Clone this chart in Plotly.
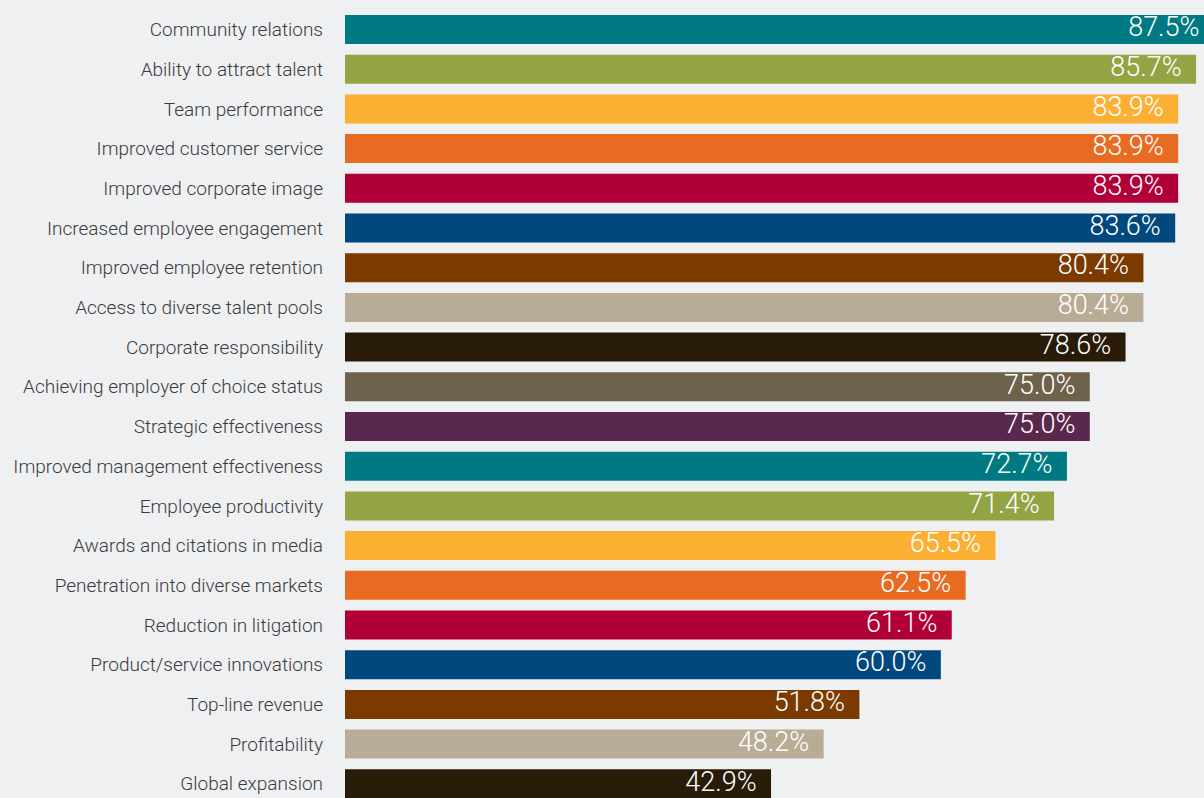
import plotly.graph_objects as go

# Reported business benefits, share of respondents (%)
benefits = [
    "Community relations",
    "Ability to attract talent",
    "Team performance",
    "Improved customer service",
    "Improved corporate image",
    "Increased employee engagement",
    "Improved employee retention",
    "Access to diverse talent pools",
    "Corporate responsibility",
    "Achieving employer of choice status",
    "Strategic effectiveness",
    "Improved management effectiveness",
    "Employee productivity",
    "Awards and citations in media",
    "Penetration into diverse markets",
    "Reduction in litigation",
    "Product/service innovations",
    "Top-line revenue",
    "Profitability",
    "Global expansion",
]
shares = [87.5, 85.7, 83.9, 83.9, 83.9, 83.6, 80.4, 80.4, 78.6, 75.0,
          75.0, 72.7, 71.4, 65.5, 62.5, 61.1, 60.0, 51.8, 48.2, 42.9]

palette = ["#007A82", "#93A445", "#FBB034", "#E96B22", "#B00037",
           "#00487E", "#7A3A00", "#B8AC96", "#281B08", "#6E624C", "#5A274D"]
bar_colors = [palette[i % len(palette)] for i in range(len(benefits))]

# inset of the value labels from the bar ends, in axis units
LABEL_INSET = 1.45

fig = go.Figure()

fig.add_trace(go.Bar(
    x=shares,
    y=benefits,
    orientation="h",
    marker=dict(color=bar_colors, line=dict(width=0)),
    hoverinfo="skip",
))

# Value labels sitting just inside the end of each bar
fig.add_trace(go.Scatter(
    x=[v - LABEL_INSET for v in shares],
    y=benefits,
    mode="text",
    text=[f"{v:.1f}%" for v in shares],
    textposition="middle left",
    textfont=dict(family="Roboto", size=27, color="#ffffff", weight=300),
    cliponaxis=False,
    hoverinfo="skip",
    showlegend=False,
))

fig.update_layout(
    width=1204,
    height=798,
    margin=dict(l=345, r=0, t=0, b=0, autoexpand=False),
    paper_bgcolor="#EFF0F2",
    plot_bgcolor="#EFF0F2",
    bargap=0.27,
    showlegend=False,
    xaxis=dict(range=[0, 86.5], visible=False, fixedrange=True),
    yaxis=dict(
        range=[19.358, -0.743],
        automargin=False,
        showgrid=False,
        zeroline=False,
        showline=False,
        ticks="",
        ticklabelstandoff=21,
        tickfont=dict(family="Roboto", size=19, color="#3A3A3C", weight=300),
        fixedrange=True,
    ),
)

fig.write_html("out.html", config={"displayModeBar": False})
